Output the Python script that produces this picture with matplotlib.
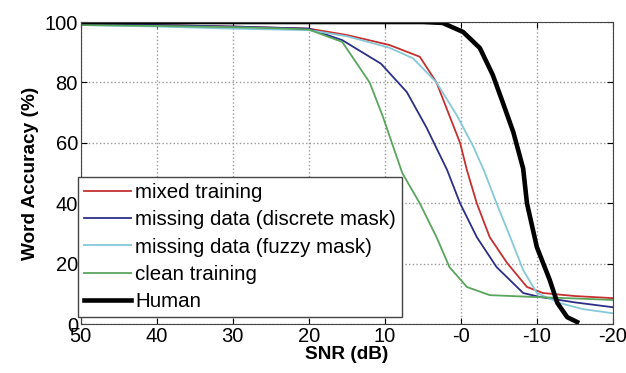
import matplotlib
matplotlib.use('Agg')
import matplotlib.pyplot as plt

plt.rcParams['font.family'] = ['Liberation Sans', 'DejaVu Sans']

# SNR (dB) / word accuracy (%)
mixed_x = [50, 40, 30, 20, 15, 9.4, 5.4, 3.2, 1.5, 0.1, -0.8, -2.1, -3.8, -6.1, -8.7, -10.8, -15, -20]
mixed_y = [99.5, 99, 98.5, 97.8, 95.7, 92.4, 88.5, 80, 69, 60, 51, 40, 28.8, 20.2, 12.3, 10.3, 9.3, 8.6]

discrete_x = [50, 40, 30, 20, 15.6, 10.5, 7.1, 4.5, 1.8, 0.1, -2.1, -4.7, -8.2, -10.4, -15, -20]
discrete_y = [99.5, 99, 98.5, 97.8, 94, 86.2, 76.8, 65, 51, 40, 28.8, 18.9, 10.3, 9, 7.2, 5.6]

fuzzy_x = [50, 40, 30, 20, 15, 9.4, 6.3, 3.2, 0.5, -1.6, -3.1, -4.7, -6.5, -8.2, -10, -13, -16, -20]
fuzzy_y = [99, 98.5, 97.8, 97.3, 95.3, 91.5, 88, 80, 69, 59, 50.5, 40, 28.8, 17.9, 10.3, 7, 5, 3.6]

clean_x = [50, 40, 30, 23.9, 20, 15.6, 12, 10.3, 7.7, 5.4, 3.2, 1.5, -0.8, -3.8, -9.5, -15, -20]
clean_y = [99, 98.7, 98.3, 97.9, 97.5, 93.4, 80, 69, 50, 40, 28.8, 18.9, 12.3, 9.6, 9, 8.5, 8]

human_x = [50, 20, 5, 2.4, -0.3, -2.5, -4.2, -5.5, -6.9, -8.2, -8.7, -10, -11.7, -12.7, -14, -15.3]
human_y = [100, 100, 100, 99.7, 96.7, 91.4, 82.5, 73.5, 63.6, 51.5, 40, 25.5, 14.6, 7, 2.3, 0.7]

xticks = [50, 40, 30, 20, 10, 0, -10, -20]
xticklabels = ['50', '40', '30', '20', '10', '-0', '-10', '-20']
yticks = [0, 20, 40, 60, 80, 100]

fig = plt.figure(figsize=(6.26, 3.73), dpi=100)
ax = fig.add_axes([0.129, 0.131, 0.85, 0.81])

ax.plot(mixed_x, mixed_y, color='#c4302f', lw=1.3, label='mixed training')
ax.plot(discrete_x, discrete_y, color='#2b2f86', lw=1.3, label='missing data (discrete mask)')
ax.plot(fuzzy_x, fuzzy_y, color='#86c8d8', lw=1.3, label='missing data (fuzzy mask)')
ax.plot(clean_x, clean_y, color='#5aa55e', lw=1.3, label='clean training')
ax.plot(human_x, human_y, color='black', lw=3.3, label='Human')

ax.set_xlim(50, -20)
ax.set_ylim(0, 100)
ax.set_xticks(xticks)
ax.set_xticklabels(xticklabels)
ax.set_yticks(yticks)
ax.tick_params(direction='in', top=True, right=True, labelsize=14.5, length=4, pad=2)
ax.grid(True, linestyle=':', color='#999999', lw=1)
for s in ax.spines.values():
    s.set_color('#444444')

ax.set_xlabel('SNR (dB)', fontsize=13.7, fontweight='bold', labelpad=0)
ax.set_ylabel('Word Accuracy (%)', fontsize=13.7, fontweight='bold', labelpad=4)

leg = ax.legend(loc='lower left', bbox_to_anchor=(-0.006, 0.023), borderaxespad=0,
                fontsize=14.8, handlelength=2.3, handletextpad=0.2, labelspacing=0.4,
                fancybox=False, framealpha=1, borderpad=0.3)
leg.get_frame().set_edgecolor('#444444')

fig.savefig('out.png', dpi=100)
